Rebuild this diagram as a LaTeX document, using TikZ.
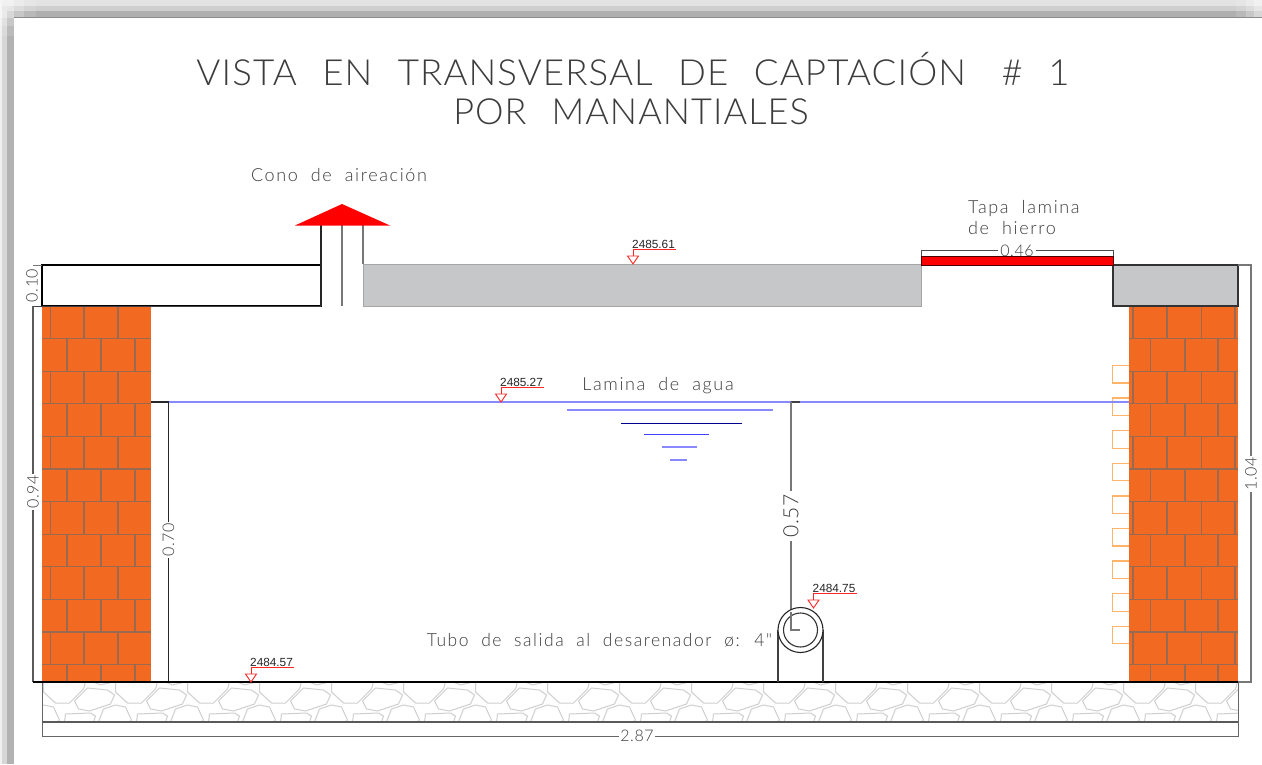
\documentclass[tikz,border=0pt]{standalone}
\usepackage{fontspec}
\setmainfont{Lato}[UprightFont=* Light]
\newfontfamily\cadtitle{Lato}[UprightFont=* Light,LetterSpace=3,WordSpace=2.3]
\newfontfamily\cadlabel{Lato}[UprightFont=* Light,LetterSpace=9,WordSpace=2.0]
\newfontfamily\caddim{Lato}[UprightFont=* Light,LetterSpace=4]
\newfontfamily\levelfont{Liberation Sans}
\definecolor{brick}{HTML}{F26A21}
\definecolor{mortar}{HTML}{9A6A50}
\definecolor{slab}{HTML}{C6C7C9}
\definecolor{water}{HTML}{8888FF}
\definecolor{stone}{HTML}{CFCFCF}
\definecolor{ink}{HTML}{3C3C3C}
\definecolor{dimline}{HTML}{777777}
\definecolor{stepcol}{HTML}{FFB469}
\tikzset{
  dimstroke/.style={draw=dimline,line width=1.2pt},
  darkstroke/.style={draw=black!85,line width=1.2pt},
  waterline/.style={draw=water,line width=1.6pt},
  label/.style={text=ink,inner sep=0pt,font=\cadlabel\fontsize{18}{21}\selectfont},
  titletext/.style={text=ink,inner sep=0pt,font=\cadtitle\fontsize{36}{40}\selectfont},
  dimlabel/.style={text=ink,fill=white,inner sep=1pt,font=\caddim\fontsize{16}{17}\selectfont},
  leveltext/.style={text=black!85,inner sep=0pt,anchor=south west,font=\levelfont\fontsize{11.8}{12}\selectfont},
  levelmark/.style={draw=red!85,line width=.9pt},
  brickline/.style={draw=mortar,line width=1.2pt},
  stoneline/.style={draw=stone,line width=1pt,line join=round},
}
\newcommand{\levelsign}[3]{% tip x, tip y, text
  \draw[levelmark,fill=white] (#1-5.5,#2-8) -- (#1+5.5,#2-8) -- (#1,#2) -- cycle;
  \draw[levelmark] (#1,#2-8) -- (#1,#2-15) -- (#1+43,#2-15);
  \node[leveltext] at (#1-1,#2-15) {#3};
}
\newcommand{\brickwall}[3]{% left x, first-row offsets, second-row offsets
  \fill[brick] (#1,306) rectangle (#1+109,682);
  \begin{scope}
    \clip (#1,306) rectangle (#1+109,682);
    \foreach \k in {0,...,11} {
      \pgfmathsetmacro{\yy}{306+32.6*\k}
      \draw[brickline] (#1,\yy) -- (#1+109,\yy);
      \pgfmathtruncatemacro{\odd}{mod(\k,2)}
      \ifnum\odd=0
        \foreach \d in {#2} \draw[brickline] (#1+\d,\yy) -- (#1+\d,\yy+32.6);
      \else
        \foreach \d in {#3} \draw[brickline] (#1+\d,\yy) -- (#1+\d,\yy+32.6);
      \fi
    }
  \end{scope}
}
\begin{document}
\begin{tikzpicture}[x=1pt,y=-1pt]
\useasboundingbox (0,0) rectangle (1262,764);
\fill[white] (0,0) rectangle (1262,764);
% window shadow
\fill[black!11] (0,0) rectangle (1262,6);
\fill[black!19] (0,6) rectangle (1262,11);
\fill[black!31] (0,11) rectangle (1262,17);
\fill[black!6] (0,0) rectangle (2,764);
\fill[black!16] (2,6) rectangle (7,764);
\fill[black!30] (7,11) rectangle (14,764);
\draw[black!45,line width=.8pt] (14,17.4) -- (1262,17.4);
\foreach \a/\b in {1236/.12,1246/.2,1254/.3} \fill[white,opacity=\b] (\a,0) rectangle (1262,17);
\foreach \a/\b in {36/.12,24/.2,14/.3} \fill[white,opacity=\b] (0,0) rectangle (\a,17);
\foreach \a/\b in {36/.12,26/.2,18/.3} \fill[white,opacity=\b] (0,17) rectangle (14,\a);
% title
\node[titletext,xscale=1.019] (title1) at (633,69) {VISTA EN TRANSVERSAL DE CAPTACIÓN\hspace{10pt} \# 1};
\node[titletext] (title2) at (631,112) {POR MANANTIALES};
% foundation stones
\begin{scope}
  \clip (42,682) rectangle (1238,722);
  \foreach \p in {-1,...,17} {
    \begin{scope}[shift={(\p*72+0.5,682)}]
      \draw[stoneline] (74,19) -- (87,6) -- (107,8) -- (114,13) -- (110,22) -- (89,29) -- (78,27) -- cycle;
      \draw[stoneline] (115,0) -- (115,10) -- (127,21) -- (141,21) -- (155,7) -- (157,0);
      \draw[stoneline] (64,40) -- (65,32) -- (90,31) -- (95,34) -- (93,40);
      \draw[stoneline] (98,40) -- (103,27) -- (115,23) -- (125,25) -- (131,38) -- (129,40);
      \draw[stoneline] (93,0) -- (100,3) -- (112,0);
    \end{scope}
  }
\end{scope}
% walls
\brickwall{42}{8.5,42,76}{25,59,93}
\brickwall{1129}{4,38,72.7,106}{21.7,56,89}
% steps
\foreach \k in {0,...,8} {
  \pgfmathsetmacro{\yy}{365.5+32.6*\k}
  \draw[draw=stepcol,line width=1.3pt] (1129,\yy) -- (1112.5,\yy) -- (1112.5,\yy+17.5) -- (1129,\yy+17.5);
}
% top slabs
\draw[draw=black,line width=1.5pt,fill=white] (42,265) rectangle (321,306);
\draw[draw=black!75,line width=1pt] (33,306) -- (321,306);
\fill[slab] (363,264) rectangle (921,306);
\draw[draw=black!35,line width=.9pt] (363,225) -- (363,306) -- (921,306) -- (921,264) -- (363,264);
\draw[draw=dimline,line width=1.2pt] (363,225) -- (363,264);
\draw[draw=black!80,line width=1.2pt,fill=slab] (1113,265) rectangle (1238,306);
% aeration cone
\draw[darkstroke,line width=1.1pt] (321,225) -- (321,306);
\draw[draw=dimline,line width=1.1pt] (342,225) -- (342,306);
\fill[red] (295,225.5) -- (342,204) -- (390,225.5) -- cycle;
% iron lid
\draw[draw=black!70!red,line width=1pt,fill=red] (921,256.5) rectangle (1113,265);
\draw[draw=black!70,line width=.9pt] (921,256) -- (921,250.5) -- (1113,250.5) -- (1113,256);
\node[dimlabel,inner sep=2pt,fill=none] (dimlid0) at (1017,251) {\phantom{0.46}};
\fill[white] (dimlid0.north west) rectangle ([yshift=-2pt]dimlid0.east);
\node[dimlabel,fill=none] (dimlid) at (1017,251) {0.46};
% water
\draw[waterline] (168,402) -- (1129,402);
\draw[darkstroke] (151,402) -- (168.5,402) -- (168.5,682);
\draw[dimstroke,draw=black!75] (791,402) -- (800,402);
\draw[dimstroke,line width=1.5pt] (791,402) -- (791,630) -- (800,630);
\draw[waterline] (567,410) -- (773,410);
\draw[draw=blue!55!black,line width=.9pt] (621,423) -- (742,423);
\draw[draw=blue!75,line width=1.1pt] (644,434.5) -- (709,434.5);
\draw[waterline] (662,447) -- (697,447);
\draw[waterline] (670,460) -- (687,460);
% dimensions
\draw[dimstroke,draw=black!65] (33,306) -- (33,682);
\draw[dimstroke,line width=1pt] (33,265) -- (42,265);
\draw[dimstroke] (1238,265) -- (1251,265) -- (1251,682) -- (1238,682);
\draw[dimstroke,draw=black!60,line width=1pt] (42,682) -- (42,736) -- (1238,736) -- (1238,682);
\draw[draw=black!65,line width=1.2pt] (42,722) -- (1238,722);
\draw[draw=black,line width=1.4pt] (33,682) -- (1238,682);
\node[dimlabel,rotate=90,fill=none,inner sep=0pt] (d010) at (32,285.5) {0.10};
\node[dimlabel,rotate=90] (d094) at (33,492) {0.94};
\node[dimlabel,rotate=90] (d070) at (168.5,540) {0.70};
\node[dimlabel,rotate=90,inner sep=3pt,font=\caddim\fontsize{21}{22}\selectfont] (d057) at (791,516) {0.57};
\node[dimlabel,rotate=90] (d104) at (1251,474) {1.04};
\node[dimlabel] (d287) at (637,736) {2.87};
% outlet pipe
\draw[draw=black!75,line width=1.1pt] (778,630) -- (778,682);
\draw[draw=black!75,line width=1.1pt] (823,630) -- (823,682);
\draw[draw=black!85,line width=1.1pt,fill=white] (800.5,630) circle[radius=22.5];
\draw[draw=black!80,line width=1.1pt] (800.5,630) circle[radius=17];
\draw[dimstroke,line width=1.4pt] (791,612) -- (791,630) -- (800,630);
% labels
\node[label] (cono) at (339,175) {Cono de aireación};
\node[label,align=left,anchor=north west] (tapa) at (968,200) {Tapa lamina\\de hierro};
\node[label] (lamina) at (658,386) {Lamina de agua};
\node[label,xscale=.97] (tubo) at (599.5,640) {Tubo de salida al desarenador ø: 4"};
% levels
\levelsign{633}{264}{2485.61}
\levelsign{501}{402}{2485.27}
\levelsign{813.5}{608}{2484.75}
\levelsign{251}{682}{2484.57}
\end{tikzpicture}
\end{document}
